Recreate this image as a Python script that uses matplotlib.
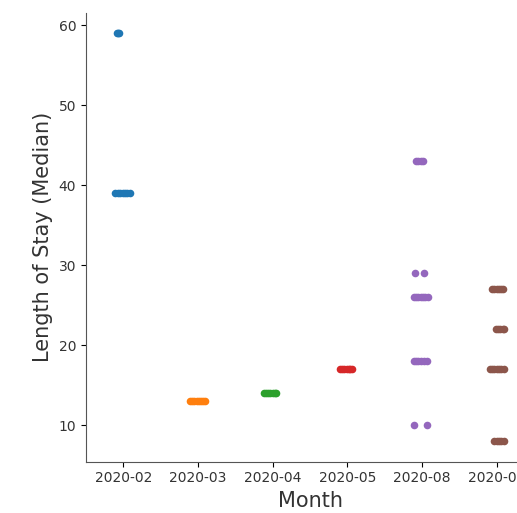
import numpy as np
import matplotlib
matplotlib.use("Agg")
import matplotlib.pyplot as plt

months = ['2020-02', '2020-03', '2020-04', '2020-05', '2020-08', '2020-09']
colors = ['#1f77b4', '#ff7f0e', '#2ca02c', '#d62728', '#9467bd', '#8c564b']

# median length of stay, one entry per record
los = [
    [59, 59, 59, 39, 39, 39, 39, 39, 39, 39],
    [13, 13, 13, 13, 13, 13, 13, 13],
    [14, 14, 14, 14, 14, 14, 14],
    [17, 17, 17, 17, 17, 17, 17],
    [43, 43, 43, 43, 29, 29, 26, 26, 26, 26, 26, 26, 26,
     18, 18, 18, 18, 18, 18, 10, 10],
    [27, 27, 27, 27, 27, 27, 22, 22, 22, 22, 22,
     17, 17, 17, 17, 17, 17, 17, 8, 8, 8, 8, 8],
]

# horizontal strip jitter
jitter = [
    [-0.09, -0.07, -0.06, -0.105, -0.07, -0.04, -0.01, 0.02, 0.05, 0.09],
    [-0.11, -0.08, -0.05, -0.02, 0.01, 0.04, 0.07, 0.09],
    [-0.12, -0.09, -0.06, -0.03, 0.0, 0.03, 0.05],
    [-0.10, -0.07, -0.04, -0.01, 0.02, 0.04, 0.06],
    [-0.077, -0.05, -0.02, 0.017, -0.094, 0.02,
     -0.114, -0.08, -0.05, -0.02, 0.01, 0.04, 0.08,
     -0.11, -0.08, -0.05, -0.01, 0.02, 0.06, -0.103, 0.067],
    [-0.063, -0.03, 0.0, 0.03, 0.06, 0.084, -0.01, 0.02, 0.05, 0.08, 0.10,
     -0.096, -0.06, -0.03, 0.0, 0.03, 0.06, 0.098, -0.03, 0.0, 0.03, 0.06, 0.10],
]

fig = plt.figure(figsize=(5.17, 5.13), dpi=100)
ax = fig.add_axes([0.1663, 0.0999, 0.8667, 0.8753])

for i, (vals, jit) in enumerate(zip(los, jitter)):
    ax.scatter(i + np.array(jit), vals, s=30, color=colors[i], linewidth=0, zorder=3)

ax.set_xticks(range(len(months)))
ax.set_xticklabels(months, fontsize=10, color='#333333')
ax.set_xlim(-0.5, len(months) - 0.5)
ax.set_ylim(5.45, 61.55)
ax.set_yticks([10, 20, 30, 40, 50, 60])
ax.tick_params(axis='y', labelsize=10, labelcolor='#333333')
ax.set_xlabel('Month', fontsize=15, color='#333333')
ax.set_ylabel('Length of Stay (Median)', fontsize=15, color='#333333')

for s in ['top', 'right']:
    ax.spines[s].set_visible(False)
for s in ['left', 'bottom']:
    ax.spines[s].set_color('#555555')

fig.savefig('out.png', dpi=100)
